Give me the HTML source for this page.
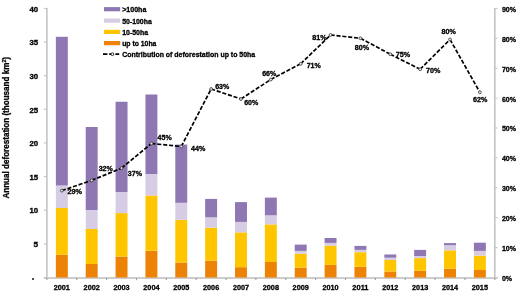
<!DOCTYPE html><html><head><meta charset="utf-8"><style>
html,body{margin:0;padding:0;background:#fff;}
svg{display:block;will-change:transform;}
text{font-family:"Liberation Sans",sans-serif;font-weight:bold;fill:#000;stroke:#000;stroke-width:0.3px;}
</style></head><body>
<svg width="520" height="296" viewBox="0 0 520 296">
<rect width="520" height="296" fill="#fff"/>
<g stroke="#C4C4C4" fill="none">
<line x1="46.90" y1="7.90" x2="46.90" y2="277.50" stroke-width="1.6"/>
<line x1="494.80" y1="7.90" x2="494.80" y2="277.50" stroke-width="1.6"/>
<line x1="43.90" y1="277.90" x2="497.50" y2="277.90" stroke-width="1.5" stroke="#bcbcbc"/>
<line x1="43.90" y1="277.50" x2="46.90" y2="277.50" stroke-width="1.1"/>
<line x1="43.90" y1="243.86" x2="46.90" y2="243.86" stroke-width="1.1"/>
<line x1="43.90" y1="210.22" x2="46.90" y2="210.22" stroke-width="1.1"/>
<line x1="43.90" y1="176.59" x2="46.90" y2="176.59" stroke-width="1.1"/>
<line x1="43.90" y1="142.95" x2="46.90" y2="142.95" stroke-width="1.1"/>
<line x1="43.90" y1="109.31" x2="46.90" y2="109.31" stroke-width="1.1"/>
<line x1="43.90" y1="75.67" x2="46.90" y2="75.67" stroke-width="1.1"/>
<line x1="43.90" y1="42.04" x2="46.90" y2="42.04" stroke-width="1.1"/>
<line x1="43.90" y1="8.40" x2="46.90" y2="8.40" stroke-width="1.1"/>
<line x1="494.80" y1="277.50" x2="497.50" y2="277.50" stroke-width="1.1"/>
<line x1="494.80" y1="247.60" x2="497.50" y2="247.60" stroke-width="1.1"/>
<line x1="494.80" y1="217.70" x2="497.50" y2="217.70" stroke-width="1.1"/>
<line x1="494.80" y1="187.80" x2="497.50" y2="187.80" stroke-width="1.1"/>
<line x1="494.80" y1="157.90" x2="497.50" y2="157.90" stroke-width="1.1"/>
<line x1="494.80" y1="128.00" x2="497.50" y2="128.00" stroke-width="1.1"/>
<line x1="494.80" y1="98.10" x2="497.50" y2="98.10" stroke-width="1.1"/>
<line x1="494.80" y1="68.20" x2="497.50" y2="68.20" stroke-width="1.1"/>
<line x1="494.80" y1="38.30" x2="497.50" y2="38.30" stroke-width="1.1"/>
<line x1="494.80" y1="8.40" x2="497.50" y2="8.40" stroke-width="1.1"/>
<line x1="46.90" y1="278.10" x2="46.90" y2="280.10" stroke-width="1.1" stroke="#9a9a9a"/>
<line x1="76.76" y1="278.10" x2="76.76" y2="280.10" stroke-width="1.1" stroke="#9a9a9a"/>
<line x1="106.62" y1="278.10" x2="106.62" y2="280.10" stroke-width="1.1" stroke="#9a9a9a"/>
<line x1="136.48" y1="278.10" x2="136.48" y2="280.10" stroke-width="1.1" stroke="#9a9a9a"/>
<line x1="166.34" y1="278.10" x2="166.34" y2="280.10" stroke-width="1.1" stroke="#9a9a9a"/>
<line x1="196.20" y1="278.10" x2="196.20" y2="280.10" stroke-width="1.1" stroke="#9a9a9a"/>
<line x1="226.06" y1="278.10" x2="226.06" y2="280.10" stroke-width="1.1" stroke="#9a9a9a"/>
<line x1="255.92" y1="278.10" x2="255.92" y2="280.10" stroke-width="1.1" stroke="#9a9a9a"/>
<line x1="285.78" y1="278.10" x2="285.78" y2="280.10" stroke-width="1.1" stroke="#9a9a9a"/>
<line x1="315.64" y1="278.10" x2="315.64" y2="280.10" stroke-width="1.1" stroke="#9a9a9a"/>
<line x1="345.50" y1="278.10" x2="345.50" y2="280.10" stroke-width="1.1" stroke="#9a9a9a"/>
<line x1="375.36" y1="278.10" x2="375.36" y2="280.10" stroke-width="1.1" stroke="#9a9a9a"/>
<line x1="405.22" y1="278.10" x2="405.22" y2="280.10" stroke-width="1.1" stroke="#9a9a9a"/>
<line x1="435.08" y1="278.10" x2="435.08" y2="280.10" stroke-width="1.1" stroke="#9a9a9a"/>
<line x1="464.94" y1="278.10" x2="464.94" y2="280.10" stroke-width="1.1" stroke="#9a9a9a"/>
<line x1="494.80" y1="278.10" x2="494.80" y2="280.10" stroke-width="1.1" stroke="#9a9a9a"/>
</g>
<rect x="55.86" y="254.75" width="11.94" height="22.75" fill="#EC8206"/>
<rect x="55.86" y="208.00" width="11.94" height="46.75" fill="#FFC600"/>
<rect x="55.86" y="185.50" width="11.94" height="22.50" fill="#D6CDE4"/>
<rect x="55.86" y="36.80" width="11.94" height="148.70" fill="#8E77B2"/>
<rect x="85.72" y="264.00" width="11.94" height="13.50" fill="#EC8206"/>
<rect x="85.72" y="229.00" width="11.94" height="35.00" fill="#FFC600"/>
<rect x="85.72" y="210.00" width="11.94" height="19.00" fill="#D6CDE4"/>
<rect x="85.72" y="127.00" width="11.94" height="83.00" fill="#8E77B2"/>
<rect x="115.58" y="256.50" width="11.94" height="21.00" fill="#EC8206"/>
<rect x="115.58" y="213.10" width="11.94" height="43.40" fill="#FFC600"/>
<rect x="115.58" y="192.00" width="11.94" height="21.10" fill="#D6CDE4"/>
<rect x="115.58" y="101.75" width="11.94" height="90.25" fill="#8E77B2"/>
<rect x="145.44" y="250.75" width="11.94" height="26.75" fill="#EC8206"/>
<rect x="145.44" y="195.50" width="11.94" height="55.25" fill="#FFC600"/>
<rect x="145.44" y="174.00" width="11.94" height="21.50" fill="#D6CDE4"/>
<rect x="145.44" y="94.50" width="11.94" height="79.50" fill="#8E77B2"/>
<rect x="175.30" y="262.50" width="11.94" height="15.00" fill="#EC8206"/>
<rect x="175.30" y="219.80" width="11.94" height="42.70" fill="#FFC600"/>
<rect x="175.30" y="202.80" width="11.94" height="17.00" fill="#D6CDE4"/>
<rect x="175.30" y="144.60" width="11.94" height="58.20" fill="#8E77B2"/>
<rect x="205.16" y="260.70" width="11.94" height="16.80" fill="#EC8206"/>
<rect x="205.16" y="227.60" width="11.94" height="33.10" fill="#FFC600"/>
<rect x="205.16" y="217.30" width="11.94" height="10.30" fill="#D6CDE4"/>
<rect x="205.16" y="198.90" width="11.94" height="18.40" fill="#8E77B2"/>
<rect x="235.02" y="267.20" width="11.94" height="10.30" fill="#EC8206"/>
<rect x="235.02" y="232.40" width="11.94" height="34.80" fill="#FFC600"/>
<rect x="235.02" y="221.90" width="11.94" height="10.50" fill="#D6CDE4"/>
<rect x="235.02" y="202.10" width="11.94" height="19.80" fill="#8E77B2"/>
<rect x="264.88" y="262.00" width="11.94" height="15.50" fill="#EC8206"/>
<rect x="264.88" y="224.40" width="11.94" height="37.60" fill="#FFC600"/>
<rect x="264.88" y="215.30" width="11.94" height="9.10" fill="#D6CDE4"/>
<rect x="264.88" y="197.60" width="11.94" height="17.70" fill="#8E77B2"/>
<rect x="294.74" y="267.65" width="11.94" height="9.85" fill="#EC8206"/>
<rect x="294.74" y="253.70" width="11.94" height="13.95" fill="#FFC600"/>
<rect x="294.74" y="250.90" width="11.94" height="2.80" fill="#D6CDE4"/>
<rect x="294.74" y="244.60" width="11.94" height="6.30" fill="#8E77B2"/>
<rect x="324.60" y="264.90" width="11.94" height="12.60" fill="#EC8206"/>
<rect x="324.60" y="245.65" width="11.94" height="19.25" fill="#FFC600"/>
<rect x="324.60" y="242.90" width="11.94" height="2.75" fill="#D6CDE4"/>
<rect x="324.60" y="238.00" width="11.94" height="4.90" fill="#8E77B2"/>
<rect x="354.46" y="266.80" width="11.94" height="10.70" fill="#EC8206"/>
<rect x="354.46" y="252.20" width="11.94" height="14.60" fill="#FFC600"/>
<rect x="354.46" y="249.90" width="11.94" height="2.30" fill="#D6CDE4"/>
<rect x="354.46" y="245.90" width="11.94" height="4.00" fill="#8E77B2"/>
<rect x="384.32" y="271.50" width="11.94" height="6.00" fill="#EC8206"/>
<rect x="384.32" y="260.00" width="11.94" height="11.50" fill="#FFC600"/>
<rect x="384.32" y="257.70" width="11.94" height="2.30" fill="#D6CDE4"/>
<rect x="384.32" y="254.50" width="11.94" height="3.20" fill="#8E77B2"/>
<rect x="414.18" y="270.80" width="11.94" height="6.70" fill="#EC8206"/>
<rect x="414.18" y="258.10" width="11.94" height="12.70" fill="#FFC600"/>
<rect x="414.18" y="256.00" width="11.94" height="2.10" fill="#D6CDE4"/>
<rect x="414.18" y="249.90" width="11.94" height="6.10" fill="#8E77B2"/>
<rect x="444.04" y="268.70" width="11.94" height="8.80" fill="#EC8206"/>
<rect x="444.04" y="250.30" width="11.94" height="18.40" fill="#FFC600"/>
<rect x="444.04" y="245.20" width="11.94" height="5.10" fill="#D6CDE4"/>
<rect x="444.04" y="243.10" width="11.94" height="2.10" fill="#8E77B2"/>
<rect x="473.90" y="270.00" width="11.94" height="7.50" fill="#EC8206"/>
<rect x="473.90" y="255.60" width="11.94" height="14.40" fill="#FFC600"/>
<rect x="473.90" y="250.90" width="11.94" height="4.70" fill="#D6CDE4"/>
<rect x="473.90" y="242.70" width="11.94" height="8.20" fill="#8E77B2"/>
<g fill="none" stroke="#000" stroke-width="1.7" stroke-dasharray="4.1 1.8">
<line x1="61.83" y1="190.60" x2="91.69" y2="180.40"/>
<line x1="91.69" y1="180.40" x2="121.55" y2="168.10"/>
<line x1="121.55" y1="168.10" x2="151.41" y2="143.50"/>
<line x1="151.41" y1="143.50" x2="181.27" y2="146.50"/>
<line x1="181.27" y1="146.50" x2="211.13" y2="89.00"/>
<line x1="211.13" y1="89.00" x2="240.99" y2="99.00"/>
<line x1="240.99" y1="99.00" x2="270.85" y2="79.50"/>
<line x1="270.85" y1="79.50" x2="300.71" y2="63.75"/>
<line x1="300.71" y1="63.75" x2="330.57" y2="35.00"/>
<line x1="330.57" y1="35.00" x2="360.43" y2="38.25"/>
<line x1="360.43" y1="38.25" x2="390.29" y2="54.25"/>
<line x1="390.29" y1="54.25" x2="420.15" y2="69.25"/>
<line x1="420.15" y1="69.25" x2="450.01" y2="39.50"/>
<line x1="450.01" y1="39.50" x2="479.87" y2="92.30"/>
</g>
<circle cx="61.83" cy="190.60" r="1.45" fill="#e4e4e4" stroke="#3a3a3a" stroke-width="0.8"/>
<circle cx="91.69" cy="180.40" r="1.45" fill="#e4e4e4" stroke="#3a3a3a" stroke-width="0.8"/>
<circle cx="121.55" cy="168.10" r="1.45" fill="#e4e4e4" stroke="#3a3a3a" stroke-width="0.8"/>
<circle cx="151.41" cy="143.50" r="1.45" fill="#e4e4e4" stroke="#3a3a3a" stroke-width="0.8"/>
<circle cx="181.27" cy="146.50" r="1.45" fill="#e4e4e4" stroke="#3a3a3a" stroke-width="0.8"/>
<circle cx="211.13" cy="89.00" r="1.45" fill="#e4e4e4" stroke="#3a3a3a" stroke-width="0.8"/>
<circle cx="240.99" cy="99.00" r="1.45" fill="#e4e4e4" stroke="#3a3a3a" stroke-width="0.8"/>
<circle cx="270.85" cy="79.50" r="1.45" fill="#e4e4e4" stroke="#3a3a3a" stroke-width="0.8"/>
<circle cx="300.71" cy="63.75" r="1.45" fill="#e4e4e4" stroke="#3a3a3a" stroke-width="0.8"/>
<circle cx="330.57" cy="35.00" r="1.45" fill="#e4e4e4" stroke="#3a3a3a" stroke-width="0.8"/>
<circle cx="360.43" cy="38.25" r="1.45" fill="#e4e4e4" stroke="#3a3a3a" stroke-width="0.8"/>
<circle cx="390.29" cy="54.25" r="1.45" fill="#e4e4e4" stroke="#3a3a3a" stroke-width="0.8"/>
<circle cx="420.15" cy="69.25" r="1.45" fill="#e4e4e4" stroke="#3a3a3a" stroke-width="0.8"/>
<circle cx="450.01" cy="39.50" r="1.45" fill="#e4e4e4" stroke="#3a3a3a" stroke-width="0.8"/>
<circle cx="479.87" cy="92.30" r="1.45" fill="#e4e4e4" stroke="#3a3a3a" stroke-width="0.8"/>
<text x="67.50" y="193.80" font-size="6.70" textLength="14.60" lengthAdjust="spacingAndGlyphs">29%</text>
<text x="98.70" y="171.00" font-size="6.98" textLength="14.10" lengthAdjust="spacingAndGlyphs">32%</text>
<text x="127.80" y="176.00" font-size="6.84" textLength="14.10" lengthAdjust="spacingAndGlyphs">37%</text>
<text x="157.60" y="140.20" font-size="7.12" textLength="14.10" lengthAdjust="spacingAndGlyphs">45%</text>
<text x="190.95" y="150.50" font-size="6.98" textLength="14.35" lengthAdjust="spacingAndGlyphs">44%</text>
<text x="215.20" y="89.00" font-size="6.98" textLength="14.10" lengthAdjust="spacingAndGlyphs">63%</text>
<text x="244.20" y="104.75" font-size="6.98" textLength="14.10" lengthAdjust="spacingAndGlyphs">60%</text>
<text x="262.20" y="76.00" font-size="6.98" textLength="14.10" lengthAdjust="spacingAndGlyphs">66%</text>
<text x="306.70" y="68.00" font-size="6.98" textLength="14.10" lengthAdjust="spacingAndGlyphs">71%</text>
<text x="312.20" y="39.50" font-size="6.98" textLength="14.35" lengthAdjust="spacingAndGlyphs">81%</text>
<text x="354.70" y="50.30" font-size="7.12" textLength="14.35" lengthAdjust="spacingAndGlyphs">80%</text>
<text x="395.70" y="57.30" font-size="7.12" textLength="14.40" lengthAdjust="spacingAndGlyphs">75%</text>
<text x="425.95" y="72.50" font-size="6.98" textLength="14.35" lengthAdjust="spacingAndGlyphs">70%</text>
<text x="441.45" y="34.25" font-size="6.98" textLength="14.35" lengthAdjust="spacingAndGlyphs">80%</text>
<text x="473.10" y="102.20" font-size="7.12" textLength="14.30" lengthAdjust="spacingAndGlyphs">62%</text>
<text x="33.60" y="247.06" font-size="7.12" textLength="4.60" lengthAdjust="spacingAndGlyphs">5</text>
<text x="29.50" y="213.42" font-size="7.12" textLength="8.70" lengthAdjust="spacingAndGlyphs">10</text>
<text x="29.50" y="179.79" font-size="7.12" textLength="8.70" lengthAdjust="spacingAndGlyphs">15</text>
<text x="29.50" y="146.15" font-size="7.12" textLength="8.70" lengthAdjust="spacingAndGlyphs">20</text>
<text x="29.50" y="112.51" font-size="7.12" textLength="8.70" lengthAdjust="spacingAndGlyphs">25</text>
<text x="29.50" y="78.87" font-size="7.12" textLength="8.70" lengthAdjust="spacingAndGlyphs">30</text>
<text x="29.50" y="45.24" font-size="7.12" textLength="8.70" lengthAdjust="spacingAndGlyphs">35</text>
<text x="29.50" y="11.60" font-size="7.12" textLength="8.70" lengthAdjust="spacingAndGlyphs">40</text>
<rect x="32.1" y="278.1" width="1.9" height="1.8" fill="#333"/>
<text x="501.90" y="280.90" font-size="7.26" textLength="10.20" lengthAdjust="spacingAndGlyphs">0%</text>
<text x="501.90" y="251.00" font-size="7.26" textLength="14.10" lengthAdjust="spacingAndGlyphs">10%</text>
<text x="501.90" y="221.10" font-size="7.26" textLength="14.10" lengthAdjust="spacingAndGlyphs">20%</text>
<text x="501.90" y="191.20" font-size="7.26" textLength="14.10" lengthAdjust="spacingAndGlyphs">30%</text>
<text x="501.90" y="161.30" font-size="7.26" textLength="14.10" lengthAdjust="spacingAndGlyphs">40%</text>
<text x="501.90" y="131.40" font-size="7.26" textLength="14.10" lengthAdjust="spacingAndGlyphs">50%</text>
<text x="501.90" y="101.50" font-size="7.26" textLength="14.10" lengthAdjust="spacingAndGlyphs">60%</text>
<text x="501.90" y="71.60" font-size="7.26" textLength="14.10" lengthAdjust="spacingAndGlyphs">70%</text>
<text x="501.90" y="41.70" font-size="7.26" textLength="14.10" lengthAdjust="spacingAndGlyphs">80%</text>
<text x="501.90" y="11.80" font-size="7.26" textLength="14.10" lengthAdjust="spacingAndGlyphs">90%</text>
<text x="53.73" y="290.30" font-size="7.40" textLength="16.20" lengthAdjust="spacingAndGlyphs">2001</text>
<text x="83.59" y="290.30" font-size="7.40" textLength="16.20" lengthAdjust="spacingAndGlyphs">2002</text>
<text x="113.45" y="290.30" font-size="7.40" textLength="16.20" lengthAdjust="spacingAndGlyphs">2003</text>
<text x="143.31" y="290.30" font-size="7.40" textLength="16.20" lengthAdjust="spacingAndGlyphs">2004</text>
<text x="173.17" y="290.30" font-size="7.40" textLength="16.20" lengthAdjust="spacingAndGlyphs">2005</text>
<text x="203.03" y="290.30" font-size="7.40" textLength="16.20" lengthAdjust="spacingAndGlyphs">2006</text>
<text x="232.89" y="290.30" font-size="7.40" textLength="16.20" lengthAdjust="spacingAndGlyphs">2007</text>
<text x="262.75" y="290.30" font-size="7.40" textLength="16.20" lengthAdjust="spacingAndGlyphs">2008</text>
<text x="292.61" y="290.30" font-size="7.40" textLength="16.20" lengthAdjust="spacingAndGlyphs">2009</text>
<text x="322.47" y="290.30" font-size="7.40" textLength="16.20" lengthAdjust="spacingAndGlyphs">2010</text>
<text x="352.33" y="290.30" font-size="7.40" textLength="16.20" lengthAdjust="spacingAndGlyphs">2011</text>
<text x="382.19" y="290.30" font-size="7.40" textLength="16.20" lengthAdjust="spacingAndGlyphs">2012</text>
<text x="412.05" y="290.30" font-size="7.40" textLength="16.20" lengthAdjust="spacingAndGlyphs">2013</text>
<text x="441.91" y="290.30" font-size="7.40" textLength="16.20" lengthAdjust="spacingAndGlyphs">2014</text>
<text x="471.77" y="290.30" font-size="7.40" textLength="16.20" lengthAdjust="spacingAndGlyphs">2015</text>
<text transform="translate(9.3,198.6) rotate(-90)" x="0" y="0" font-size="8.5" textLength="141.6" lengthAdjust="spacingAndGlyphs">Annual deforestation (thousand km<tspan font-size="5.5" dy="-3">2</tspan><tspan dy="3">)</tspan></text>
<rect x="104" y="7.10" width="16.2" height="4.2" fill="#8E77B2"/>
<text x="122.2" y="12.10" font-size="7.1" textLength="24.20" lengthAdjust="spacingAndGlyphs">&gt;100ha</text>
<rect x="104" y="18.50" width="16.2" height="4.2" fill="#D6CDE4"/>
<text x="122.2" y="23.50" font-size="7.1" textLength="29.60" lengthAdjust="spacingAndGlyphs">50-100ha</text>
<rect x="104" y="29.80" width="16.2" height="4.2" fill="#FFC600"/>
<text x="122.2" y="34.80" font-size="7.1" textLength="25.90" lengthAdjust="spacingAndGlyphs">10-50ha</text>
<rect x="104" y="41.00" width="16.2" height="4.2" fill="#EC8206"/>
<text x="122.2" y="46.00" font-size="7.1" textLength="34.20" lengthAdjust="spacingAndGlyphs">up to 10ha</text>
<line x1="103" y1="54.2" x2="119.2" y2="54.2" stroke="#000" stroke-width="1.8" stroke-dasharray="4.4 1.8"/>
<circle cx="112.4" cy="54.2" r="1.4" fill="#fff" stroke="#000" stroke-width="0.8"/>
<text x="122.2" y="57.3" font-size="7.1" textLength="133.0" lengthAdjust="spacingAndGlyphs">Contribution of deforestation up to 50ha</text>
</svg></body></html>
